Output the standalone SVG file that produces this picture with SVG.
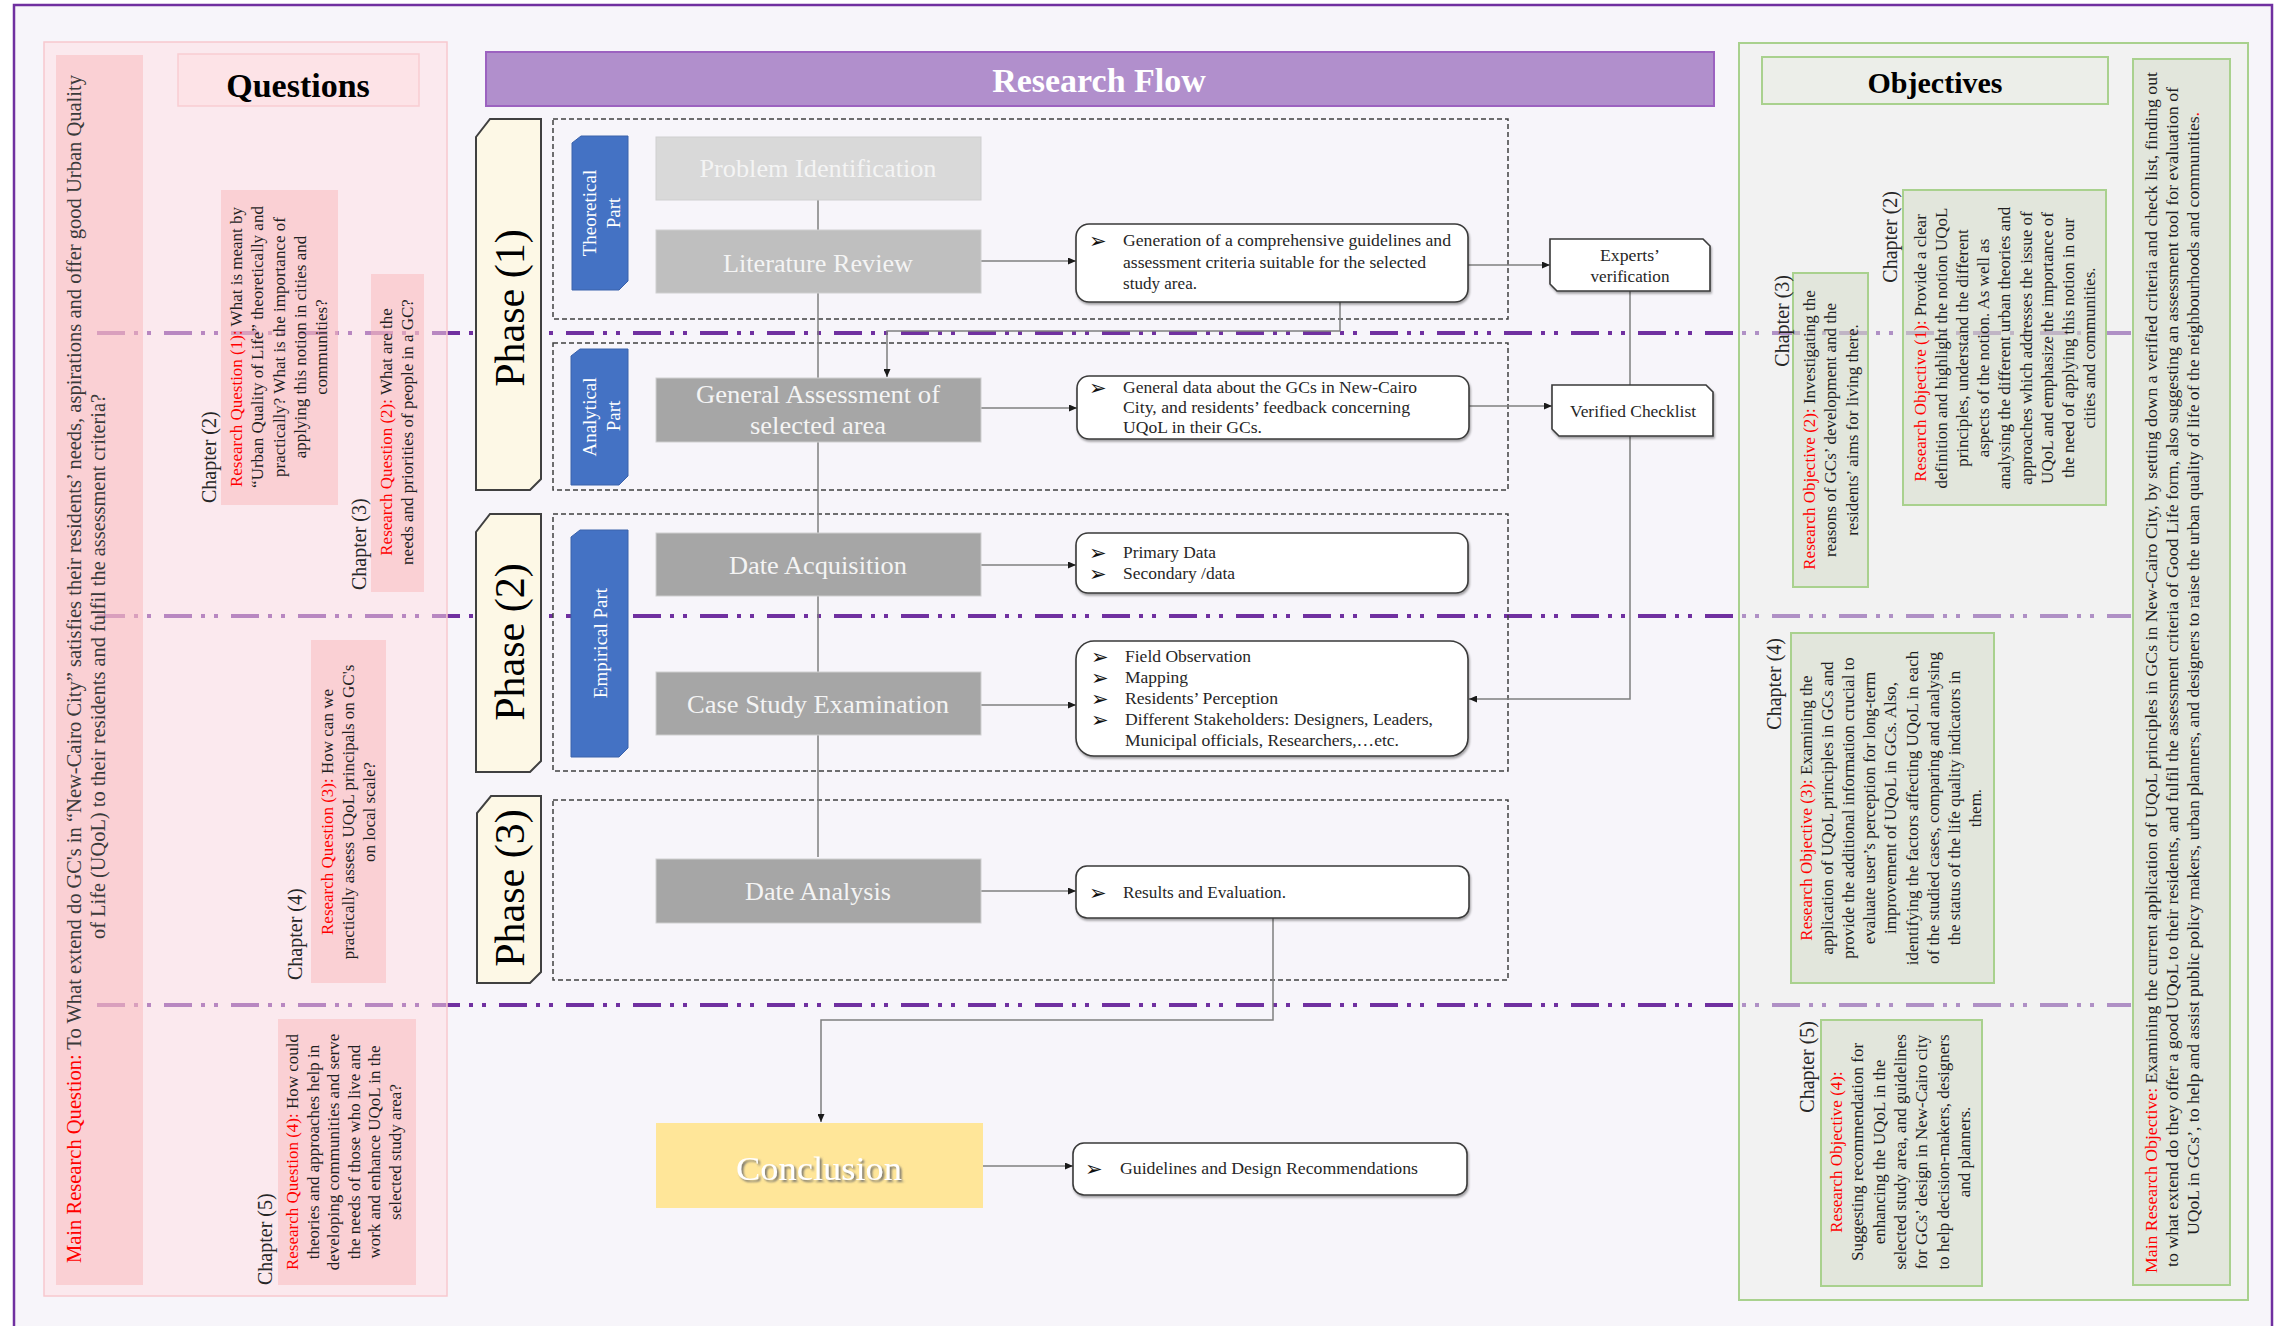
<svg xmlns="http://www.w3.org/2000/svg" width="2274" height="1326" viewBox="0 0 2274 1326">
  <defs>
    <style>
      text { font-family: "Liberation Serif", "Times New Roman", serif; }
      .body { font-size: 17px; fill: #1f1f1f; }
      .red { fill: #ff0000; }
      .chap { font-size: 20px; fill: #262626; }
      .mid { text-anchor: middle; }
      .flow { font-size: 26px; fill: #f4f4f4; text-anchor: middle; }
      .phase { font-size: 42px; fill: #000; text-anchor: middle; }
      .blue-t { font-size: 19px; fill: #ffffff; text-anchor: middle; }
      .bul { font-size: 16px; fill: #262626; }
      .blt { font-family: "DejaVu Sans", sans-serif; font-size: 21px; fill: #111111; }
      .title { font-weight: bold; fill: #000; text-anchor: middle; }
      .dashbox { fill: none; stroke: #404040; stroke-width: 1.5; stroke-dasharray: 5 3; }
      .conn { fill: none; stroke: #7f7f7f; stroke-width: 1.5; }
      .divider { fill: none; stroke: #7030a0; stroke-width: 4; stroke-dasharray: 28 9 4 9 4 13; }
      .grey { stroke: #cfcfcf; stroke-width: 1; }
      .wbox { fill: #ffffff; stroke: #3a3a3a; stroke-width: 1.6; filter: url(#sh); }
      .tab { fill: #fdf8e6; stroke: #404040; stroke-width: 2; }
      .part { fill: #4472c4; stroke: #3a62ab; stroke-width: 1; }
      .qbox { fill: #f9b7ba; fill-opacity: 0.5; }
      .obox { fill: #d2dac6; fill-opacity: 0.5; stroke: #a9d18e; stroke-width: 2; }
    </style>
    <marker id="arr" viewBox="0 0 8 7" refX="8" refY="3.5" markerWidth="8" markerHeight="7" markerUnits="userSpaceOnUse" orient="auto">
      <path d="M0,0 L8,3.5 L0,7 Z" fill="#1a1a1a"/>
    </marker>
    <filter id="sh" x="-5%" y="-10%" width="112%" height="135%">
      <feDropShadow dx="1" dy="2" stdDeviation="1" flood-color="#000" flood-opacity="0.35"/>
    </filter>
    <filter id="tsh" x="-10%" y="-20%" width="125%" height="150%">
      <feDropShadow dx="2" dy="2" stdDeviation="1.2" flood-color="#6b6b6b" flood-opacity="0.9"/>
    </filter>
  </defs>

  <!-- page and outer frame -->
  <rect x="0" y="0" width="2274" height="1326" fill="#ffffff"/>
  <rect id="frame" x="14" y="5" width="2258" height="1340" fill="#f7f5fa" stroke="#7030a0" stroke-width="2.5"/>

  <!-- chapter divider lines (dash-dot-dot) -->
  <g id="dividers">
    <path class="divider" d="M97,333 H2131"/>
    <path class="divider" d="M97,616 H2131"/>
    <path class="divider" d="M97,1005 H2131"/>
  </g>

  <!-- ============ QUESTIONS COLUMN ============ -->
  <g id="questions-panel">
    <rect x="44" y="42" width="403" height="1254" fill="#ffdde2" fill-opacity="0.5" stroke="#f8c8ce" stroke-width="1.5"/>
  </g>
  <g id="questions-title">
    <rect x="178" y="54" width="241" height="52" fill="#fde3e7" stroke="#f9cdd2" stroke-width="1.5"/>
    <text class="title" x="298" y="97" font-size="34">Questions</text>
  </g>
  <g id="main-question">
    <rect class="qbox" x="56" y="55" width="87" height="1230"/>
    <text transform="translate(81,1263) rotate(-90)" font-size="20" fill="#3a3a3a" textLength="1188" lengthAdjust="spacingAndGlyphs"><tspan class="red">Main Research Question:</tspan> To What extend do GC's in “New-Cairo City” satisfies their residents’ needs, aspirations and offer good Urban Quality</text>
    <text transform="translate(105,939) rotate(-90)" font-size="20" fill="#3a3a3a" textLength="545" lengthAdjust="spacingAndGlyphs">of Life (UQoL) to their residents and fulfil the assessment criteria?</text>
  </g>
  <g id="question-1">
    <rect class="qbox" x="221" y="190" width="117" height="315"/>
    <text class="chap" transform="translate(216,503) rotate(-90)">Chapter (2)</text>
    <text class="body mid" transform="translate(242,347) rotate(-90)"><tspan class="red">Research Question (1):</tspan> What is meant by</text>
    <text class="body mid" transform="translate(263,347) rotate(-90)">“Urban Quality of Life” theoretically and</text>
    <text class="body mid" transform="translate(285,347) rotate(-90)">practically? What is the importance of</text>
    <text class="body mid" transform="translate(306,347) rotate(-90)">applying this notion in cities and</text>
    <text class="body mid" transform="translate(327,347) rotate(-90)">communities?</text>
  </g>
  <g id="question-2">
    <rect class="qbox" x="371" y="274" width="53" height="318"/>
    <text class="chap" transform="translate(366,590) rotate(-90)">Chapter (3)</text>
    <text class="body mid" transform="translate(392,432) rotate(-90)"><tspan class="red">Research Question (2):</tspan> What are the</text>
    <text class="body mid" transform="translate(413,432) rotate(-90)">needs and priorities of people in a GC?</text>
  </g>
  <g id="question-3">
    <rect class="qbox" x="311" y="640" width="75" height="343"/>
    <text class="chap" transform="translate(302,980) rotate(-90)">Chapter (4)</text>
    <text class="body mid" transform="translate(333,812) rotate(-90)"><tspan class="red">Research Question (3):</tspan> How can we</text>
    <text class="body mid" transform="translate(354,812) rotate(-90)">practically assess UQoL principals on GC's</text>
    <text class="body mid" transform="translate(375,812) rotate(-90)">on local scale?</text>
  </g>
  <g id="question-4">
    <rect class="qbox" x="278" y="1019" width="138" height="266"/>
    <text class="chap" transform="translate(272,1285) rotate(-90)">Chapter (5)</text>
    <text class="body mid" transform="translate(298,1152) rotate(-90)"><tspan class="red">Research Question (4):</tspan> How could</text>
    <text class="body mid" transform="translate(319,1152) rotate(-90)">theories and approaches help in</text>
    <text class="body mid" transform="translate(339,1152) rotate(-90)">developing communities and serve</text>
    <text class="body mid" transform="translate(360,1152) rotate(-90)">the needs of those who live and</text>
    <text class="body mid" transform="translate(380,1152) rotate(-90)">work and enhance UQoL in the</text>
    <text class="body mid" transform="translate(401,1152) rotate(-90)">selected study area?</text>
  </g>

  <!-- ============ OBJECTIVES COLUMN ============ -->
  <g id="objectives-panel">
    <rect x="1739" y="43" width="509" height="1257" fill="#edefea" fill-opacity="0.5" stroke="#a9d18e" stroke-width="2"/>
  </g>
  <g id="objectives-title">
    <rect x="1762" y="57" width="346" height="47" fill="#eceee9" stroke="#a9d18e" stroke-width="2"/>
    <text class="title" x="1935" y="93" font-size="30">Objectives</text>
  </g>
  <g id="main-objective">
    <rect class="obox" x="2133" y="59" width="97" height="1226"/>
    <text class="body" transform="translate(2157,1273) rotate(-90)" textLength="1201" lengthAdjust="spacingAndGlyphs"><tspan class="red">Main Research Objective:</tspan> Examining the current application of UQoL principles in GCs in New-Cairo City, by setting down a verified criteria and check list, finding out</text>
    <text class="body" transform="translate(2178,1267) rotate(-90)" textLength="1180" lengthAdjust="spacingAndGlyphs">to what extend do they offer a good UQoL to their residents, and fulfil the assessment criteria of Good Life form, also suggesting an assessment tool for evaluation of</text>
    <text class="body" transform="translate(2199,1235) rotate(-90)" textLength="1123" lengthAdjust="spacingAndGlyphs">UQoL in GCs’, to help and assist public policy makers, urban planners, and designers to raise the urban quality of life of the neighbourhoods and communities<tspan class="red">.</tspan></text>
  </g>
  <g id="objective-1">
    <rect class="obox" x="1903" y="190" width="203" height="315"/>
    <text class="chap" text-anchor="end" transform="translate(1897,191) rotate(-90)">Chapter (2)</text>
    <text class="body mid" transform="translate(1926,348) rotate(-90)"><tspan class="red">Research Objective (1):</tspan> Provide a clear</text>
    <text class="body mid" transform="translate(1947,348) rotate(-90)">definition and highlight the notion UQoL</text>
    <text class="body mid" transform="translate(1968,348) rotate(-90)">principles, understand the different</text>
    <text class="body mid" transform="translate(1989,348) rotate(-90)">aspects of the notion. As well as</text>
    <text class="body mid" transform="translate(2010,348) rotate(-90)">analysing the different urban theories and</text>
    <text class="body mid" transform="translate(2032,348) rotate(-90)">approaches which addresses the issue of</text>
    <text class="body mid" transform="translate(2053,348) rotate(-90)">UQoL and emphasize the importance of</text>
    <text class="body mid" transform="translate(2074,348) rotate(-90)">the need of applying this notion in our</text>
    <text class="body mid" transform="translate(2095,348) rotate(-90)">cities and communities.</text>
  </g>
  <g id="objective-2">
    <rect class="obox" x="1793" y="273" width="75" height="314"/>
    <text class="chap" text-anchor="end" transform="translate(1789,275) rotate(-90)">Chapter (3)</text>
    <text class="body mid" transform="translate(1815,430) rotate(-90)"><tspan class="red">Research Objective (2):</tspan> Investigating the</text>
    <text class="body mid" transform="translate(1836,430) rotate(-90)">reasons of GCs’ development and the</text>
    <text class="body mid" transform="translate(1858,430) rotate(-90)">residents’ aims for living there.</text>
  </g>
  <g id="objective-3">
    <rect class="obox" x="1791" y="633" width="203" height="350"/>
    <text class="chap" text-anchor="end" transform="translate(1781,638) rotate(-90)">Chapter (4)</text>
    <text class="body mid" transform="translate(1812,808) rotate(-90)"><tspan class="red">Research Objective (3):</tspan> Examining the</text>
    <text class="body mid" transform="translate(1833,808) rotate(-90)">application of UQoL principles in GCs and</text>
    <text class="body mid" transform="translate(1854,808) rotate(-90)">provide the additional information crucial to</text>
    <text class="body mid" transform="translate(1875,808) rotate(-90)">evaluate user’s perception for long-term</text>
    <text class="body mid" transform="translate(1896,808) rotate(-90)">improvement of UQoL in GCs. Also,</text>
    <text class="body mid" transform="translate(1918,808) rotate(-90)">identifying the factors affecting UQoL in each</text>
    <text class="body mid" transform="translate(1939,808) rotate(-90)">of the studied cases, comparing and analysing</text>
    <text class="body mid" transform="translate(1960,808) rotate(-90)">the status of the life quality indicators in</text>
    <text class="body mid" transform="translate(1981,808) rotate(-90)">them.</text>
  </g>
  <g id="objective-4">
    <rect class="obox" x="1821" y="1020" width="161" height="266"/>
    <text class="chap" text-anchor="end" transform="translate(1814,1021) rotate(-90)">Chapter (5)</text>
    <text class="body mid" transform="translate(1842,1152) rotate(-90)"><tspan class="red">Research Objective (4):</tspan></text>
    <text class="body mid" transform="translate(1863,1152) rotate(-90)">Suggesting recommendation for</text>
    <text class="body mid" transform="translate(1885,1152) rotate(-90)">enhancing the UQoL in the</text>
    <text class="body mid" transform="translate(1906,1152) rotate(-90)">selected study area, and guidelines</text>
    <text class="body mid" transform="translate(1927,1152) rotate(-90)">for GCs’ design in New-Cairo city</text>
    <text class="body mid" transform="translate(1949,1152) rotate(-90)">to help decision-makers, designers</text>
    <text class="body mid" transform="translate(1970,1152) rotate(-90)">and planners.</text>
  </g>

  <!-- ============ RESEARCH FLOW ============ -->
  <g id="research-flow-title">
    <rect x="486" y="52" width="1228" height="54" fill="#b18fcc" stroke="#9c62c0" stroke-width="2"/>
    <text class="title" x="1099" y="92" font-size="34" style="fill:#ffffff">Research Flow</text>
  </g>

  <!-- phase tabs -->
  <g id="phase-1">
    <path class="tab" d="M490,119 H541 V479 L530,490 H476 V137 Z"/>
    <text class="phase" transform="translate(524,308) rotate(-90)">Phase (1)</text>
  </g>
  <g id="phase-2">
    <path class="tab" d="M490,514 H541 V761 L530,772 H476 V532 Z"/>
    <text class="phase" transform="translate(524,642) rotate(-90)">Phase (2)</text>
  </g>
  <g id="phase-3">
    <path class="tab" d="M491,796 H541 V972 L530,983 H477 V813 Z"/>
    <text class="phase" transform="translate(524,888) rotate(-90)">Phase (3)</text>
  </g>

  <!-- dashed phase frames -->
  <g id="phase-frames">
    <rect class="dashbox" x="553" y="119" width="955" height="200"/>
    <rect class="dashbox" x="553" y="343" width="955" height="147"/>
    <rect class="dashbox" x="553" y="514" width="955" height="257"/>
    <rect class="dashbox" x="553" y="800" width="955" height="180"/>
  </g>

  <!-- part labels -->
  <g id="theoretical-part">
    <path class="part" d="M581,136 H628 V281 L619,290 H572 V143 Z"/>
    <text class="blue-t" transform="translate(596,213) rotate(-90)">Theoretical</text>
    <text class="blue-t" transform="translate(620,213) rotate(-90)">Part</text>
  </g>
  <g id="analytical-part">
    <path class="part" d="M580,349 H628 V476 L619,485 H571 V356 Z"/>
    <text class="blue-t" transform="translate(596,417) rotate(-90)">Analytical</text>
    <text class="blue-t" transform="translate(620,416) rotate(-90)">Part</text>
  </g>
  <g id="empirical-part">
    <path class="part" d="M580,530 H628 V748 L619,757 H571 V537 Z"/>
    <text class="blue-t" transform="translate(607,643) rotate(-90)">Empirical Part</text>
  </g>

  <!-- connectors -->
  <g id="connectors">
    <path class="conn" d="M818,200 V857"/>
    <path class="conn" d="M981,261 H1076" marker-end="url(#arr)"/>
    <path class="conn" d="M1468,265 H1550" marker-end="url(#arr)"/>
    <path class="conn" d="M1340,302 V331 H887 V377" marker-end="url(#arr)"/>
    <path class="conn" d="M981,408 H1077" marker-end="url(#arr)"/>
    <path class="conn" d="M1469,406 H1552" marker-end="url(#arr)"/>
    <path class="conn" d="M1630,291 V385"/>
    <path class="conn" d="M1630,436 V699 H1469" marker-end="url(#arr)"/>
    <path class="conn" d="M981,565 H1076" marker-end="url(#arr)"/>
    <path class="conn" d="M981,705 H1076" marker-end="url(#arr)"/>
    <path class="conn" d="M981,891 H1076" marker-end="url(#arr)"/>
    <path class="conn" d="M1273,918 V1020 H821 V1122" marker-end="url(#arr)"/>
    <path class="conn" d="M983,1166 H1073" marker-end="url(#arr)"/>
  </g>

  <!-- process steps -->
  <g id="problem-identification">
    <rect class="grey" x="656" y="137" width="325" height="63" fill="#d9d9d9"/>
    <text class="flow" x="818" y="177" textLength="237" lengthAdjust="spacingAndGlyphs">Problem Identification</text>
  </g>
  <g id="literature-review">
    <rect class="grey" x="656" y="230" width="325" height="63" fill="#bfbfbf"/>
    <text class="flow" x="818" y="272" textLength="190" lengthAdjust="spacingAndGlyphs">Literature Review</text>
  </g>
  <g id="general-assessment">
    <rect class="grey" x="656" y="378" width="325" height="64" fill="#a6a6a6"/>
    <text class="flow" x="818" y="403" textLength="244" lengthAdjust="spacingAndGlyphs">General Assessment of</text>
    <text class="flow" x="818" y="434" textLength="136" lengthAdjust="spacingAndGlyphs">selected area</text>
  </g>
  <g id="data-acquisition">
    <rect class="grey" x="656" y="533" width="325" height="63" fill="#a6a6a6"/>
    <text class="flow" x="818" y="574" textLength="178" lengthAdjust="spacingAndGlyphs">Date Acquisition</text>
  </g>
  <g id="case-study">
    <rect class="grey" x="656" y="672" width="325" height="63" fill="#a6a6a6"/>
    <text class="flow" x="818" y="713" textLength="262" lengthAdjust="spacingAndGlyphs">Case Study Examination</text>
  </g>
  <g id="data-analysis">
    <rect class="grey" x="656" y="859" width="325" height="64" fill="#a6a6a6"/>
    <text class="flow" x="818" y="900" textLength="146" lengthAdjust="spacingAndGlyphs">Date Analysis</text>
  </g>
  <g id="conclusion">
    <rect x="656" y="1123" width="327" height="85" fill="#ffe699"/>
    <text x="819" y="1180" font-size="34" fill="#ffffff" text-anchor="middle" filter="url(#tsh)" textLength="166" lengthAdjust="spacingAndGlyphs">Conclusion</text>
  </g>

  <!-- outputs -->
  <g id="guidelines-output">
    <rect class="wbox" x="1076" y="224" width="392" height="78" rx="13"/>
    <text class="blt" x="1089" y="248">➢</text>
    <text class="bul" x="1123" y="246" textLength="328" lengthAdjust="spacingAndGlyphs">Generation of a comprehensive guidelines and</text>
    <text class="bul" x="1123" y="268" textLength="303" lengthAdjust="spacingAndGlyphs">assessment criteria suitable for the selected</text>
    <text class="bul" x="1123" y="289" textLength="74" lengthAdjust="spacingAndGlyphs">study area.</text>
  </g>
  <g id="general-data-output">
    <rect class="wbox" x="1077" y="376" width="392" height="63" rx="12"/>
    <text class="blt" x="1089" y="395">➢</text>
    <text class="bul" x="1123" y="393" textLength="294" lengthAdjust="spacingAndGlyphs">General data about the GCs in New-Cairo</text>
    <text class="bul" x="1123" y="413" textLength="287" lengthAdjust="spacingAndGlyphs">City, and residents’ feedback concerning</text>
    <text class="bul" x="1123" y="433" textLength="139" lengthAdjust="spacingAndGlyphs">UQoL in their GCs.</text>
  </g>
  <g id="experts-verification">
    <path class="wbox" d="M1550,239 H1703 L1710,246 V291 H1557 L1550,284 Z"/>
    <text class="bul mid" x="1630" y="261" textLength="60" lengthAdjust="spacingAndGlyphs">Experts’</text>
    <text class="bul mid" x="1630" y="282" textLength="79" lengthAdjust="spacingAndGlyphs">verification</text>
  </g>
  <g id="verified-checklist">
    <path class="wbox" d="M1552,385 H1706 L1713,392 V436 H1559 L1552,429 Z"/>
    <text class="bul mid" x="1633" y="417" textLength="126" lengthAdjust="spacingAndGlyphs">Verified Checklist</text>
  </g>
  <g id="data-sources">
    <rect class="wbox" x="1076" y="533" width="392" height="60" rx="12"/>
    <text class="blt" x="1089" y="560">➢</text>
    <text class="bul" x="1123" y="558" textLength="93" lengthAdjust="spacingAndGlyphs">Primary Data</text>
    <text class="blt" x="1089" y="581">➢</text>
    <text class="bul" x="1123" y="579" textLength="112" lengthAdjust="spacingAndGlyphs">Secondary /data</text>
  </g>
  <g id="case-study-methods">
    <rect class="wbox" x="1076" y="641" width="392" height="115" rx="18"/>
    <text class="blt" x="1091" y="664">➢</text>
    <text class="bul" x="1125" y="662" textLength="126" lengthAdjust="spacingAndGlyphs">Field Observation</text>
    <text class="blt" x="1091" y="685">➢</text>
    <text class="bul" x="1125" y="683" textLength="63" lengthAdjust="spacingAndGlyphs">Mapping</text>
    <text class="blt" x="1091" y="706">➢</text>
    <text class="bul" x="1125" y="704" textLength="153" lengthAdjust="spacingAndGlyphs">Residents’ Perception</text>
    <text class="blt" x="1091" y="727">➢</text>
    <text class="bul" x="1125" y="725" textLength="308" lengthAdjust="spacingAndGlyphs">Different Stakeholders: Designers, Leaders,</text>
    <text class="bul" x="1125" y="746" textLength="274" lengthAdjust="spacingAndGlyphs">Municipal officials, Researchers,…etc.</text>
  </g>
  <g id="results-output">
    <rect class="wbox" x="1076" y="866" width="393" height="52" rx="11"/>
    <text class="blt" x="1089" y="900">➢</text>
    <text class="bul" x="1123" y="898" textLength="163" lengthAdjust="spacingAndGlyphs">Results and Evaluation.</text>
  </g>
  <g id="recommendations-output">
    <rect class="wbox" x="1073" y="1143" width="394" height="52" rx="11"/>
    <text class="blt" x="1085" y="1176">➢</text>
    <text class="bul" x="1120" y="1174" textLength="298" lengthAdjust="spacingAndGlyphs">Guidelines and Design Recommendations</text>
  </g>
</svg>
